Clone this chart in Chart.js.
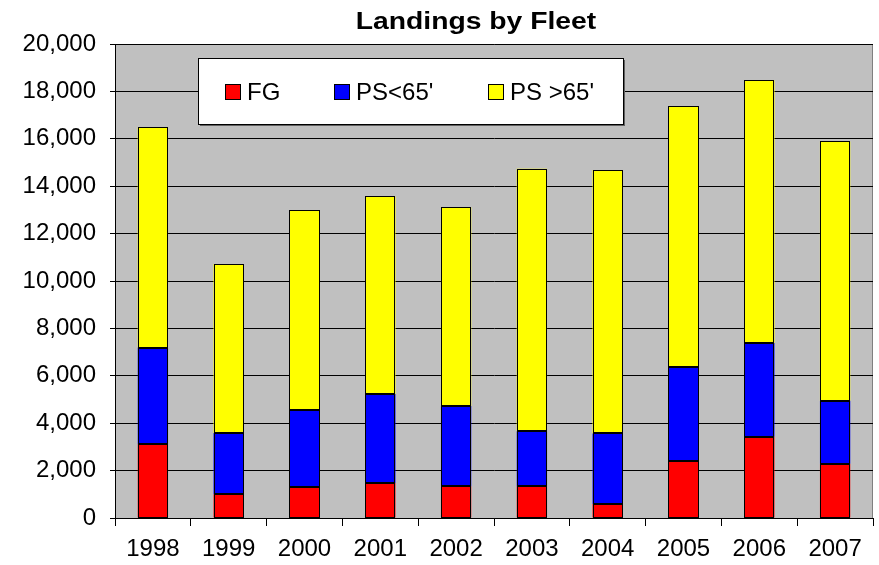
<!DOCTYPE html>
<html>
<head>
<meta charset="utf-8">
<script src="https://cdn.jsdelivr.net/npm/chart.js@4/dist/chart.umd.min.js"></script>
<style>
  body { margin: 0; background: #fff; }
  #chart { display: block; }
</style>
</head>
<body>
<canvas id="chart" width="879" height="565"></canvas>
<script>
// Data (landings per year, by fleet)
const years = ['1998', '1999', '2000', '2001', '2002', '2003', '2004', '2005', '2006', '2007'];
const fg = [3120, 1000, 1320, 1480, 1340, 1340, 590, 2420, 3430, 2290];
const psUnder65 = [4070, 2590, 3240, 3750, 3390, 2320, 2980, 3940, 3950, 2660];
const psOver65 = [9300, 7130, 8420, 8340, 8380, 11080, 11100, 11010, 11090, 10940];
const yTicks = [0, 2000, 4000, 6000, 8000, 10000, 12000, 14000, 16000, 18000, 20000];

const chartTitle = 'Landings by Fleet';
const FONT = '"Liberation Sans", Arial, sans-serif';

// Gray plot background with a thin border (Excel style)
const plotBackground = {
  id: 'plotBackground',
  beforeDraw(chart) {
    const { ctx, chartArea: a } = chart;
    ctx.save();
    ctx.fillStyle = '#C0C0C0';
    ctx.fillRect(a.left, a.top, a.right - a.left, a.bottom - a.top);
    ctx.strokeStyle = '#808080';
    ctx.lineWidth = 1;
    ctx.strokeRect(a.left + 0.5, a.top + 0.5, a.right - a.left - 1, a.bottom - a.top);
    ctx.restore();
  }
};

// Black outline round every bar segment
const barOutline = {
  id: 'barOutline',
  afterDatasetsDraw(chart) {
    const { ctx } = chart;
    ctx.save();
    ctx.strokeStyle = '#000';
    ctx.lineWidth = 1;
    chart.data.datasets.forEach((ds, i) => {
      chart.getDatasetMeta(i).data.forEach(bar => {
        const { x, y, base, width } = bar.getProps(['x', 'y', 'base', 'width'], true);
        const l = Math.round(x - width / 2) + 0.5;
        const r = Math.round(x + width / 2) - 0.5;
        const t = Math.round(Math.min(y, base)) + 0.5;
        const b = Math.round(Math.max(y, base)) - 0.5;
        ctx.strokeRect(l, t, r - l, b - t);
      });
    });
    ctx.restore();
  }
};

// Title, drawn a bit wide like the original
const stretchedTitle = {
  id: 'stretchedTitle',
  afterDraw(chart) {
    const { ctx, chartArea: a } = chart;
    const cx = (a.left + a.right) / 2 - 18;
    ctx.save();
    ctx.translate(cx, 29);
    ctx.scale(1.23, 1);
    ctx.font = 'bold 23px ' + FONT;
    ctx.fillStyle = '#000';
    ctx.textAlign = 'center';
    ctx.textBaseline = 'alphabetic';
    ctx.fillText(chartTitle, 0, 0);
    ctx.restore();
  }
};

// Legend box inside the plot area
const insideLegend = {
  id: 'insideLegend',
  afterDraw(chart) {
    const { ctx, chartArea: a } = chart;
    const left = a.left + 83, top = a.top + 14, w = 425, h = 66;
    const itemX = [27, 136, 290];
    ctx.save();
    // shadow
    ctx.fillStyle = '#606060';
    ctx.fillRect(left + 2, top + 2, w, h);
    ctx.fillStyle = '#fff';
    ctx.fillRect(left, top, w, h);
    ctx.strokeStyle = '#000';
    ctx.lineWidth = 1;
    ctx.strokeRect(left + 0.5, top + 0.5, w, h);
    ctx.font = '24px ' + FONT;
    ctx.textBaseline = 'middle';
    ctx.textAlign = 'left';
    const cy = top + 34;
    chart.data.datasets.forEach((ds, i) => {
      const x = left + itemX[i];
      ctx.fillStyle = ds.backgroundColor;
      ctx.fillRect(x, cy - 8, 16, 16);
      ctx.strokeStyle = '#000';
      ctx.strokeRect(x + 0.5, cy - 7.5, 15, 15);
      ctx.fillStyle = '#000';
      ctx.fillText(ds.label, x + 22, cy + 1);
    });
    ctx.restore();
  }
};

const datasetStyle = {
  borderWidth: 0,
  inflateAmount: 0,
  barPercentage: 0.4,
  categoryPercentage: 1.0
};

new Chart(document.getElementById('chart'), {
  type: 'bar',
  data: {
    labels: years,
    datasets: [
      { label: 'FG', data: fg, backgroundColor: '#FF0000', ...datasetStyle },
      { label: "PS<65'", data: psUnder65, backgroundColor: '#0000FF', ...datasetStyle },
      { label: "PS >65'", data: psOver65, backgroundColor: '#FFFF00', ...datasetStyle }
    ]
  },
  options: {
    responsive: false,
    animation: false,
    layout: { padding: { top: 44, right: 6, bottom: 0, left: 0 } },
    plugins: {
      legend: { display: false },
      title: { display: false },
      tooltip: { enabled: false }
    },
    scales: {
      x: {
        stacked: true,
        grid: {
          display: true,
          offset: true,
          drawOnChartArea: false,
          drawTicks: true,
          tickLength: 8,
          color: '#000'
        },
        border: { display: true, color: '#000', width: 1 },
        ticks: {
          color: '#000',
          font: { family: FONT, size: 24 },
          padding: 9,
          maxRotation: 0,
          autoSkip: false
        },
        afterFit(scale) { scale.height = 47; }
      },
      y: {
        stacked: true,
        min: yTicks[0],
        max: yTicks[yTicks.length - 1],
        afterBuildTicks(scale) {
          scale.ticks = yTicks.map(v => ({ value: v }));
        },
        grid: {
          color: '#000',
          drawTicks: true,
          tickLength: 5
        },
        border: { display: true, color: '#000', width: 1 },
        ticks: {
          color: '#000',
          font: { family: FONT, size: 24 },
          padding: 14,
          callback: v => v.toLocaleString('en-US')
        },
        afterFit(scale) { scale.width = 115; }
      }
    }
  },
  plugins: [plotBackground, barOutline, stretchedTitle, insideLegend]
});
</script>
</body>
</html>
